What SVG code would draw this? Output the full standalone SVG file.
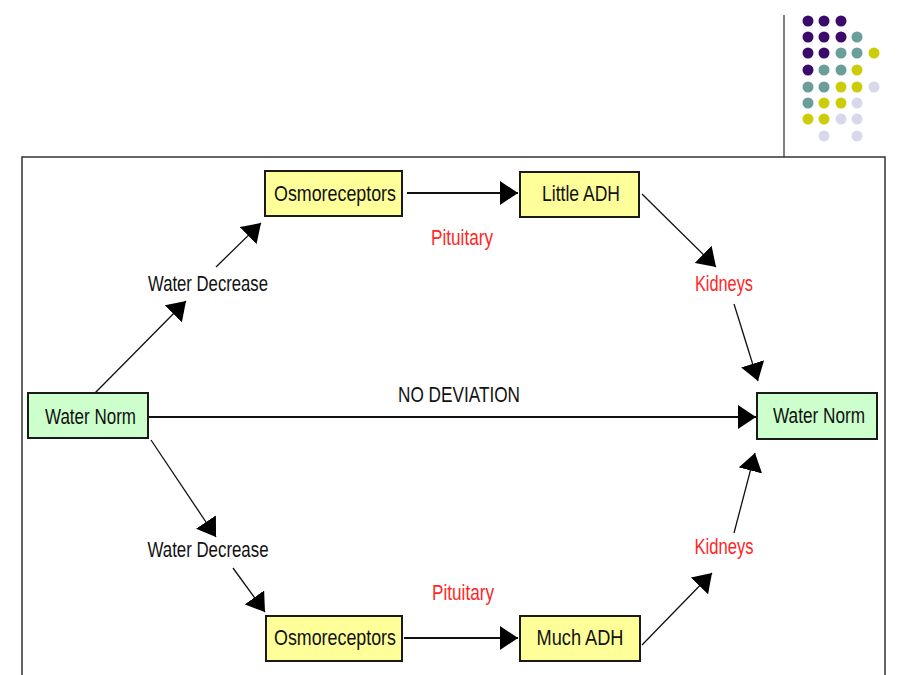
<svg xmlns="http://www.w3.org/2000/svg" width="900" height="675" viewBox="0 0 900 675">
<style>
.box{stroke:#1a1a1a;stroke-width:2}
.y{fill:#ffff99}
.g{fill:#ccffcc}
.t{font-family:"Liberation Sans",Arial,sans-serif;font-size:22px;fill:#111;text-anchor:middle}
.r{fill:#ff2626}
.c{stroke:#111;stroke-width:1.3;fill:none}
.h{stroke:#111;stroke-width:2;fill:none}
.p{fill:#3b0b6b}.q{fill:#6a9e9a}.s{fill:#cccc0a}.l{fill:#d8d8ec}
</style>
<defs>
<marker id="ah" viewBox="0 0 18 24" refX="18" refY="12" markerWidth="18" markerHeight="24" markerUnits="userSpaceOnUse" orient="auto">
<path d="M0,0 L18,12 L0,24 z" fill="#000"/>
</marker>
</defs>
<rect width="900" height="675" fill="#fff"/>
<g id="decor">
<line x1="784" y1="15" x2="784" y2="157" stroke="#555" stroke-width="1.5"/>
<rect x="22" y="157" width="863" height="530" fill="none" stroke="#333" stroke-width="1.5"/>
<g id="dots">
<circle class="p" cx="808" cy="21" r="5.5"/><circle class="p" cx="824" cy="21" r="5.5"/><circle class="p" cx="841" cy="21" r="5.5"/>
<circle class="p" cx="808" cy="37" r="5.5"/><circle class="p" cx="824" cy="37" r="5.5"/><circle class="p" cx="841" cy="37" r="5.5"/><circle class="q" cx="857" cy="37" r="5.5"/>
<circle class="p" cx="808" cy="53" r="5.5"/><circle class="p" cx="824" cy="53" r="5.5"/><circle class="q" cx="841" cy="53" r="5.5"/><circle class="q" cx="857" cy="53" r="5.5"/><circle class="s" cx="874" cy="53" r="5.5"/>
<circle class="p" cx="808" cy="70" r="5.5"/><circle class="q" cx="824" cy="70" r="5.5"/><circle class="q" cx="841" cy="70" r="5.5"/><circle class="s" cx="857" cy="70" r="5.5"/>
<circle class="q" cx="808" cy="87" r="5.5"/><circle class="q" cx="824" cy="87" r="5.5"/><circle class="s" cx="841" cy="87" r="5.5"/><circle class="s" cx="857" cy="87" r="5.5"/><circle class="l" cx="874" cy="87" r="5.5"/>
<circle class="q" cx="808" cy="103" r="5.5"/><circle class="s" cx="824" cy="103" r="5.5"/><circle class="s" cx="841" cy="103" r="5.5"/><circle class="l" cx="857" cy="103" r="5.5"/>
<circle class="s" cx="808" cy="119" r="5.5"/><circle class="s" cx="824" cy="119" r="5.5"/><circle class="l" cx="841" cy="119" r="5.5"/><circle class="l" cx="857" cy="119" r="5.5"/>
<circle class="l" cx="824" cy="136" r="5.5"/><circle class="l" cx="857" cy="136" r="5.5"/>
</g>
</g>
<g id="connectors">
<line class="c" x1="95" y1="393" x2="186" y2="301" marker-end="url(#ah)"/>
<line class="c" x1="216" y1="267" x2="261" y2="223" marker-end="url(#ah)"/>
<line class="h" x1="407" y1="193" x2="518" y2="193" marker-end="url(#ah)"/>
<line class="c" x1="642" y1="194" x2="716" y2="267" marker-end="url(#ah)"/>
<line class="c" x1="734" y1="304" x2="758" y2="381" marker-end="url(#ah)"/>
<line class="h" x1="148" y1="417" x2="756" y2="417" marker-end="url(#ah)"/>
<line class="c" x1="151" y1="440" x2="216" y2="537" marker-end="url(#ah)"/>
<line class="c" x1="233" y1="568" x2="265" y2="612" marker-end="url(#ah)"/>
<line class="h" x1="404" y1="638" x2="518" y2="638" marker-end="url(#ah)"/>
<line class="c" x1="642" y1="645" x2="712" y2="573" marker-end="url(#ah)"/>
<line class="c" x1="734" y1="533" x2="755" y2="453" marker-end="url(#ah)"/>
</g>
<g id="water-norm-left">
<rect class="box g" x="28" y="393" width="120" height="45"/>
<text class="t" x="90.5" y="424" textLength="91" lengthAdjust="spacingAndGlyphs">Water Norm</text>
</g>
<g id="water-norm-right">
<rect class="box g" x="757" y="393" width="120" height="46"/>
<text class="t" x="819" y="423" textLength="92" lengthAdjust="spacingAndGlyphs">Water Norm</text>
</g>
<g id="osmo-top">
<rect class="box y" x="265" y="171" width="137" height="45"/>
<text class="t" x="335" y="201" textLength="122" lengthAdjust="spacingAndGlyphs">Osmoreceptors</text>
</g>
<g id="little-adh">
<rect class="box y" x="520" y="172" width="119" height="45"/>
<text class="t" x="581" y="201" textLength="78" lengthAdjust="spacingAndGlyphs">Little ADH</text>
</g>
<g id="osmo-bottom">
<rect class="box y" x="266" y="616" width="136" height="45"/>
<text class="t" x="335" y="645" textLength="122" lengthAdjust="spacingAndGlyphs">Osmoreceptors</text>
</g>
<g id="much-adh">
<rect class="box y" x="520" y="616" width="120" height="45"/>
<text class="t" x="580" y="645" textLength="87" lengthAdjust="spacingAndGlyphs">Much ADH</text>
</g>
<g id="labels">
<text class="t" x="208" y="291" textLength="120" lengthAdjust="spacingAndGlyphs">Water Decrease</text>
<text class="t" x="208" y="557" textLength="121" lengthAdjust="spacingAndGlyphs">Water Decrease</text>
<text class="t" x="459" y="402" textLength="122" lengthAdjust="spacingAndGlyphs">NO DEVIATION</text>
<text class="t r" x="462" y="245" textLength="62" lengthAdjust="spacingAndGlyphs">Pituitary</text>
<text class="t r" x="463" y="600" textLength="62" lengthAdjust="spacingAndGlyphs">Pituitary</text>
<text class="t r" x="724" y="291" textLength="58" lengthAdjust="spacingAndGlyphs">Kidneys</text>
<text class="t r" x="724" y="554" textLength="59" lengthAdjust="spacingAndGlyphs">Kidneys</text>
</g>
</svg>
